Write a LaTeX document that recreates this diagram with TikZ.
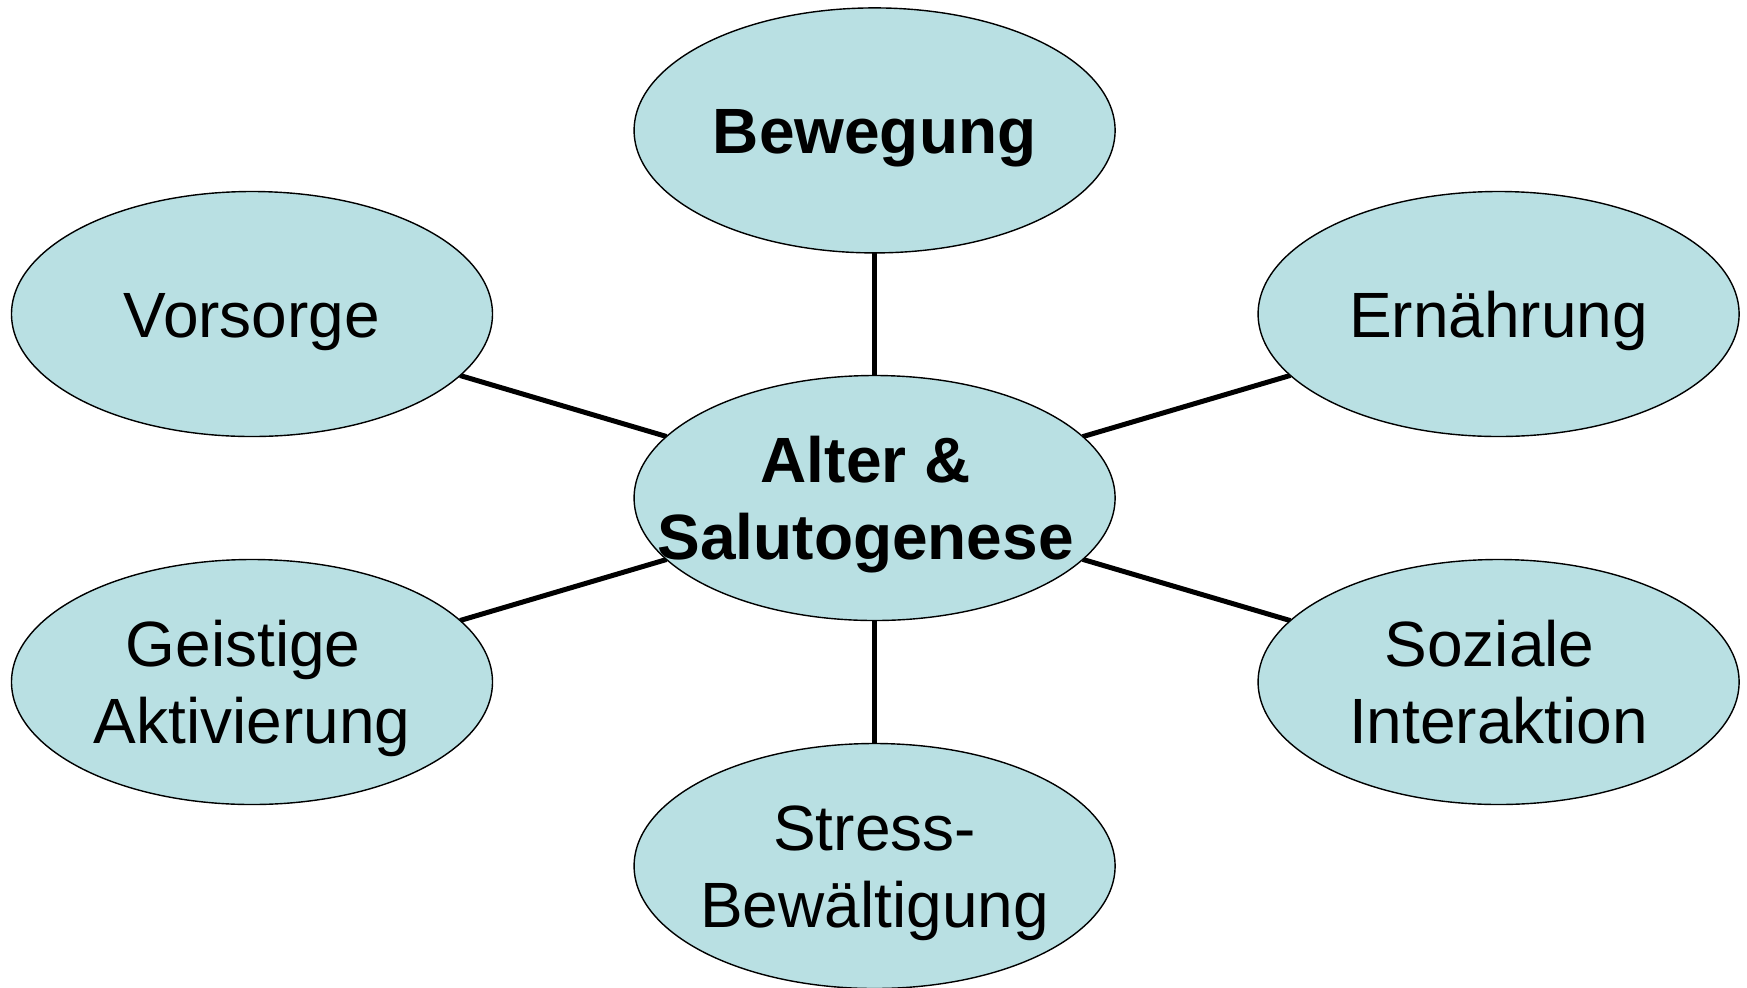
\documentclass[tikz,border=0pt]{standalone}
\usepackage{fontspec}
\setmainfont{Liberation Sans}
\usepackage{xcolor}
\usetikzlibrary{shapes.geometric,positioning,backgrounds}
\definecolor{healthteal}{RGB}{185, 224, 227}
% line metrics like the slide's text boxes
\newcommand{\topline}{\rule{0pt}{30pt}}
\newcommand{\botline}{\rule[-6.8pt]{0pt}{6.8pt}}
\newcommand{\trail}{\hspace*{0.28em}}

\begin{document}
\begin{tikzpicture}[x=0.5pt, y=-0.5pt,
        topic/.style={ellipse, draw=black, line width=0.7pt, fill=healthteal,
            minimum width=240.5pt, minimum height=122.5pt, inner xsep=-25pt, inner ysep=0pt,
            outer sep=0pt, align=center, font=\fontsize{32}{38.5}\selectfont},
        hub/.style={topic, font=\fontsize{32}{38.5}\selectfont\bfseries},
        spoke/.style={line width=2.5pt, draw=black}]
        \useasboundingbox (0, 0) rectangle (1747, 987);

        % Central theme
        \node[hub] (alter) at (874.6, 498) {\topline Alter \&\trail\\Salutogenese\trail\botline};

        % Surrounding fields
        \node[hub] (bewegung) at (874.6, 130.4) {\topline Bewegung\botline};
        \node[topic] (vorsorge) at (252, 314) {\topline Vorsorge\botline};
        \node[topic] (ernaehrung) at (1498.6, 314) {\topline Ern\"ahrung\botline};
        \node[topic] (geistig) at (252, 682) {\topline Geistige\trail\\Aktivierung\botline};
        \node[topic] (sozial) at (1498.6, 682) {\topline Soziale\trail\\Interaktion\botline};
        \node[topic] (stress) at (874.6, 866) {\topline Stress-\\Bew\"altigung\botline};

        % Spokes
        \begin{scope}[on background layer]
            \foreach \field in {bewegung, vorsorge, ernaehrung, geistig, sozial, stress}
                \draw[spoke] (alter) -- (\field);
        \end{scope}
    \end{tikzpicture}
\end{document}
